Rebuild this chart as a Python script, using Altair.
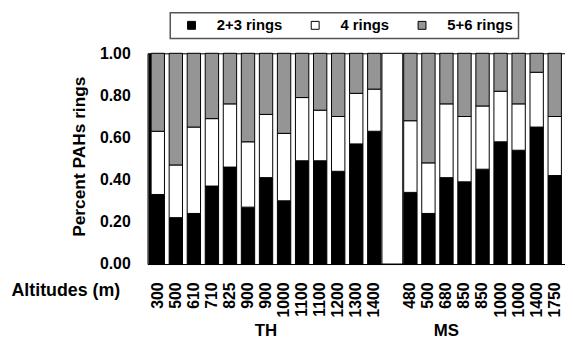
import altair as alt
import pandas as pd

# ---- data ----
altitudes = ["300", "500", "610", "710", "825", "900", "900", "1000", "1100", "1100", "1200", "1300", "1400",
             "",
             "480", "500", "680", "850", "850", "1000", "1000", "1400", "1750"]
classes = ["2+3 rings", "4 rings", "5+6 rings"]
colors = ["#000000", "#ffffff", "#959595"]

th_r23 = [0.33, 0.22, 0.24, 0.37, 0.46, 0.27, 0.41, 0.30, 0.49, 0.49, 0.44, 0.57, 0.63]
th_r4 = [0.30, 0.25, 0.41, 0.32, 0.30, 0.31, 0.30, 0.32, 0.30, 0.24, 0.26, 0.24, 0.20]
th_r56 = [0.37, 0.53, 0.35, 0.31, 0.24, 0.42, 0.29, 0.38, 0.21, 0.27, 0.30, 0.19, 0.17]

ms_r23 = [0.34, 0.24, 0.41, 0.39, 0.45, 0.58, 0.54, 0.65, 0.42]
ms_r4 = [0.34, 0.24, 0.35, 0.31, 0.30, 0.24, 0.22, 0.26, 0.28]
ms_r56 = [0.32, 0.52, 0.24, 0.30, 0.25, 0.18, 0.24, 0.09, 0.30]

groups = ["TH", "MS"]
group_ids = [6, 16]
gap_id = 13

# ---- tables ----
th_ids = list(range(0, 13))
ms_ids = list(range(14, 23))
rows = []
for ids, series in ((th_ids, (th_r23, th_r4, th_r56)), (ms_ids, (ms_r23, ms_r4, ms_r56))):
    for k, ser in enumerate(series):
        for i, v in zip(ids, ser):
            rows.append({"id": i, "cls": classes[k], "ord": k, "value": v})
df = pd.DataFrame(rows)
gap_df = pd.DataFrame({"id": [gap_id], "value": [1.0]})
grp_df = pd.DataFrame({"id": group_ids, "grp": groups})

label_arr = "[" + ",".join("'%s'" % a for a in altitudes) + "]"

FONT = "Liberation Sans"

xenc = alt.X(
    "id:O",
    scale=alt.Scale(domain=list(range(len(altitudes))), paddingInner=0.26, paddingOuter=0.2),
    axis=alt.Axis(
        title="Altitudes (m)",
        labelExpr=label_arr + "[datum.value]",
        labelAngle=270,
        labelFont=FONT, labelFontSize=16, labelFontWeight="bold", labelColor="black",
        labelPadding=18, ticks=False, tickSize=0,
        domainColor="black", domainWidth=1,
        titleFont=FONT, titleFontSize=18, titleFontWeight="bold", titleColor="black",
        titleX=-83, titleY=27, titleAlign="center", titleBaseline="middle", titleAngle=0,
        labelOverlap=False,
    ),
)
yenc = alt.Y(
    "value:Q",
    scale=alt.Scale(domain=[0, 1], nice=False),
    axis=alt.Axis(
        title="Percent PAHs rings",
        values=[0, 0.2, 0.4, 0.6, 0.8, 1.0], format=".2f",
        grid=False, ticks=False, tickSize=0,
        labelFont=FONT, labelFontSize=16, labelFontWeight="bold", labelColor="black",
        labelPadding=20, offset=-2.5,
        domainColor="black", domainWidth=4,
        titleFont=FONT, titleFontSize=17.5, titleFontWeight="bold", titleColor="black",
        titleX=-71, titleY=104, titleAngle=270, titleAlign="center", titleBaseline="middle",
    ),
)

gap = alt.Chart(gap_df).mark_bar(fill="white", stroke="black", strokeWidth=1, size=21).encode(
    x=xenc, y=yenc
)

bars = alt.Chart(df).mark_bar(stroke="black", strokeWidth=1).encode(
    x=xenc,
    y=yenc,
    color=alt.Color(
        "cls:N",
        scale=alt.Scale(domain=classes, range=colors),
        legend=alt.Legend(
            title=None, orient="none", legendX=23, legendY=-41, direction="horizontal",
            symbolType="square", symbolSize=64, symbolStrokeColor="black", symbolStrokeWidth=1,
            symbolOffset=9, labelOffset=18,
            labelFont=FONT, labelFontSize=15, labelFontWeight="bold", labelColor="black",
            labelExpr="datum.label == '5+6 rings' ? datum.label + '\u00a0\u00a0\u00a0' : datum.label",
            columnPadding=16, padding=5,
            strokeColor="#555555", fillColor="white",
        ),
    ),
    order=alt.Order("ord:Q", sort="ascending"),
)

grp_text = alt.Chart(grp_df).mark_text(
    font=FONT, fontSize=17, fontWeight="bold", color="black", baseline="middle", align="center"
).encode(
    x=xenc,
    y=alt.value(281),
    text="grp:N",
)

chart = alt.layer(gap, bars, grp_text).properties(
    width=422, height=213,
    padding={"left": 141, "top": 44, "right": 0, "bottom": 74},
    autosize=alt.AutoSizeParams(type="none"),
    background="white",
).configure_view(stroke="black", strokeWidth=1).configure_legend(strokeWidth=1.5)

chart.save("out.html", embed_options={"renderer": "svg", "actions": False})
